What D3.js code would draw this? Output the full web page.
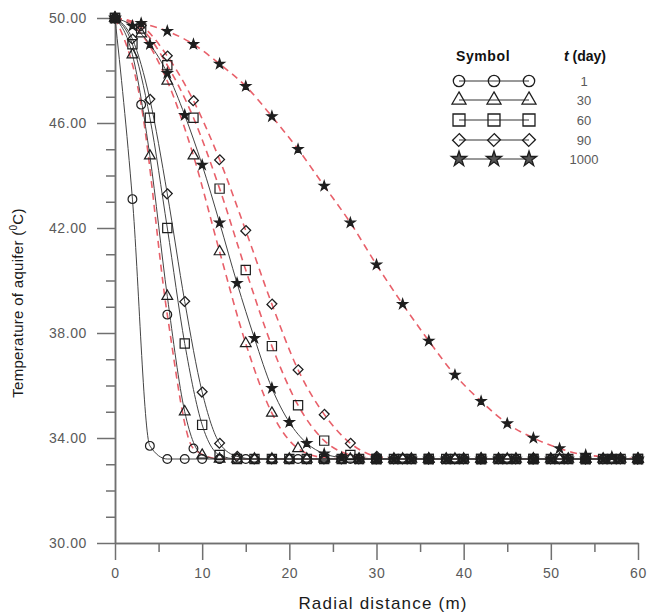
<!DOCTYPE html>
<html>
<head>
<meta charset="utf-8">
<script src="https://cdn.jsdelivr.net/npm/d3@7"></script>
<style>
  html, body { margin: 0; padding: 0; background: #fff; }
  svg { display: block; font-family: "Liberation Sans", Arial, sans-serif; }
</style>
</head>
<body>
<svg id="chart" width="648" height="613"></svg>
<script>
// ---------------- DATA ----------------
const times = ["1", "30", "60", "90", "1000"];
const symbolsByTime = ["circle", "triangle", "square", "diamond", "star"];

// solid black curves, sampled every 2 m
const xSolid = [0,2,4,6,8,10,12,14,16,18,20,22,24,26,28,30,32,34,36,38,40,42,44,46,48,50,52,54,56,58,60];
const solidT1    = [50,43.1,33.7,33.2,33.2,33.2,33.2,33.2,33.2,33.2,33.2,33.2,33.2,33.2,33.2,33.2,33.2,33.2,33.2,33.2,33.2,33.2,33.2,33.2,33.2,33.2,33.2,33.2,33.2,33.2,33.2];
const solidT30   = [50,48.6,44.75,39.4,35.0,33.35,33.2,33.2,33.2,33.2,33.2,33.2,33.2,33.2,33.2,33.2,33.2,33.2,33.2,33.2,33.2,33.2,33.2,33.2,33.2,33.2,33.2,33.2,33.2,33.2,33.2];
const solidT60   = [50,49.0,46.2,42.0,37.6,34.5,33.35,33.2,33.2,33.2,33.2,33.2,33.2,33.2,33.2,33.2,33.2,33.2,33.2,33.2,33.2,33.2,33.2,33.2,33.2,33.2,33.2,33.2,33.2,33.2,33.2];
const solidT90   = [50,49.2,46.9,43.3,39.2,35.75,33.8,33.3,33.2,33.2,33.2,33.2,33.2,33.2,33.2,33.2,33.2,33.2,33.2,33.2,33.2,33.2,33.2,33.2,33.2,33.2,33.2,33.2,33.2,33.2,33.2];
const solidT1000 = [50,49.7,49.0,47.9,46.3,44.4,42.2,39.9,37.8,35.9,34.6,33.8,33.4,33.25,33.2,33.2,33.2,33.2,33.2,33.2,33.2,33.2,33.2,33.2,33.2,33.2,33.2,33.2,33.2,33.2,33.2];

// red dashed curves, sampled every 3 m
const xDashed = [0,3,6,9,12,15,18,21,24,27,30,33,36,39,42,45,48,51,54,57,60];
const dashedT1    = [50,46.7,38.7,33.6,33.2,33.2,33.2,33.2,33.2,33.2,33.2,33.2,33.2,33.2,33.2,33.2,33.2,33.2,33.2,33.2,33.2];
const dashedT30   = [50,49.4,47.6,44.75,41.1,37.6,34.95,33.6,33.25,33.2,33.2,33.2,33.2,33.2,33.2,33.2,33.2,33.2,33.2,33.2,33.2];
const dashedT60   = [50,49.6,48.2,46.2,43.5,40.4,37.5,35.25,33.9,33.35,33.2,33.2,33.2,33.2,33.2,33.2,33.2,33.2,33.2,33.2,33.2];
const dashedT90   = [50,49.7,48.55,46.85,44.6,41.9,39.1,36.6,34.9,33.8,33.3,33.2,33.2,33.2,33.2,33.2,33.2,33.2,33.2,33.2,33.2];
const dashedT1000 = [50,49.8,49.5,49.0,48.25,47.4,46.25,45.0,43.6,42.2,40.6,39.1,37.7,36.4,35.4,34.55,34.0,33.6,33.35,33.28,33.2];

const xMajorTicks = [0,10,20,30,40,50,60];
const xMinorTicks = [5,15,25,35,45,55];
const yMajorTicks = [30,34,38,42,46,50];
const yMinorTicks = [31,32,33,35,36,37,39,40,41,43,44,45,47,48,49];

const xTitle = "Radial distance (m)";
const yTitleMain = "Temperature of aquifer (";
const yTitleSup = "0";
const yTitleEnd = "C)";
const legendHead1 = "Symbol";
const legendHead2 = " (day)";

// ---------------- BUILD ----------------
const solidSeries = [solidT1, solidT30, solidT60, solidT90, solidT1000];
const dashedSeries = [dashedT1, dashedT30, dashedT60, dashedT90, dashedT1000];

const svg = d3.select("#chart");
const x = d3.scaleLinear().domain([0, 60]).range([115, 638]);
const y = d3.scaleLinear().domain([30, 50]).range([543, 18]);

const axisColor = "#707070";
const labelColor = "#5a5a5a";

// Axes
const gx = svg.append("g").attr("transform", `translate(0,${y(30)})`);
gx.call(d3.axisBottom(x).tickValues(xMajorTicks).tickSize(17).tickSizeOuter(0).tickPadding(8).tickFormat(d3.format("d")));
const gxm = svg.append("g").attr("transform", `translate(0,${y(30)})`);
gxm.call(d3.axisBottom(x).tickValues(xMinorTicks).tickSize(9).tickSizeOuter(0).tickFormat(""));

const gy = svg.append("g").attr("transform", `translate(${x(0)},0)`);
gy.call(d3.axisLeft(y).tickValues(yMajorTicks).tickSize(18).tickSizeOuter(0).tickPadding(10).tickFormat(d3.format(".2f")));
const gym = svg.append("g").attr("transform", `translate(${x(0)},0)`);
gym.call(d3.axisLeft(y).tickValues(yMinorTicks).tickSize(9).tickSizeOuter(0).tickFormat(""));

[gx, gxm, gy, gym].forEach(g => {
  g.selectAll("path.domain").attr("stroke", axisColor).attr("stroke-width", 1.5);
  g.selectAll(".tick line").attr("stroke", axisColor).attr("stroke-width", 1.5);
  g.selectAll(".tick text")
    .attr("fill", labelColor)
    .attr("font-size", 14)
    .attr("letter-spacing", "0.6px")
    .attr("font-family", "Liberation Sans, Arial, sans-serif");
});

// Titles
svg.append("text")
  .attr("x", 383).attr("y", 609)
  .attr("text-anchor", "middle")
  .attr("font-size", 17)
  .attr("letter-spacing", "1.2px")
  .attr("fill", "#1a1a1a")
  .text(xTitle);

const yt = svg.append("text")
  .attr("transform", "translate(23,303) rotate(-90)")
  .attr("text-anchor", "middle")
  .attr("font-size", 15)
  .attr("letter-spacing", "0.3px")
  .attr("fill", "#1a1a1a");
yt.append("tspan").text(yTitleMain);
yt.append("tspan").attr("font-size", 10).attr("dy", -6).text(yTitleSup);
yt.append("tspan").attr("dy", 6).text(yTitleEnd);

// Curves
const line = d3.line().curve(d3.curveMonotoneX);

const gLines = svg.append("g");
dashedSeries.forEach(vals => {
  gLines.append("path")
    .attr("d", line(xDashed.map((d, i) => [x(d), y(vals[i])])))
    .attr("fill", "none")
    .attr("stroke", "#e8606a")
    .attr("stroke-width", 1.6)
    .attr("stroke-dasharray", "7,5");
});
solidSeries.forEach(vals => {
  gLines.append("path")
    .attr("d", line(xSolid.map((d, i) => [x(d), y(vals[i])])))
    .attr("fill", "none")
    .attr("stroke", "#444")
    .attr("stroke-width", 1);
});

// Marker shapes
function markerPath(type, scale) {
  const s = scale || 1;
  switch (type) {
    case "circle": return d3.symbol().type(d3.symbolCircle).size(60 * s * s)();
    case "triangle": return d3.symbol().type(d3.symbolTriangle).size(50 * s * s)();
    case "square": return d3.symbol().type(d3.symbolSquare).size(85 * s * s)();
    case "diamond": return d3.symbol().type(d3.symbolSquare).size(44 * s * s)();
    case "star": return d3.symbol().type(d3.symbolStar).size(30 * s * s)();
  }
}
function drawMarker(g, type, cx, cy, scale, starFill) {
  const p = g.append("path")
    .attr("d", markerPath(type, scale))
    .attr("transform", `translate(${cx},${cy})` + (type === "diamond" ? " rotate(45) scale(1,1.1)" : ""))
    .attr("stroke", "#1e1e1e")
    .attr("stroke-width", 1.2);
  if (type === "star") p.attr("fill", starFill || "#1e1e1e"); else p.attr("fill", "none");
  return p;
}

const gMarks = svg.append("g");
dashedSeries.forEach((vals, k) => {
  xDashed.forEach((d, i) => drawMarker(gMarks, symbolsByTime[k], x(d), y(vals[i])));
});
solidSeries.forEach((vals, k) => {
  xSolid.forEach((d, i) => drawMarker(gMarks, symbolsByTime[k], x(d), y(vals[i])));
});

// Legend
const lg = svg.append("g");
lg.append("text").attr("x", 456).attr("y", 61)
  .attr("font-size", 14).attr("font-weight", "bold").attr("letter-spacing", "0.6px")
  .attr("fill", "#111").text(legendHead1);
const th = lg.append("text").attr("x", 564).attr("y", 61)
  .attr("font-size", 14).attr("font-weight", "bold").attr("fill", "#111");
th.append("tspan").attr("font-style", "italic").text("t");
th.append("tspan").text(legendHead2);

const rowY = [81, 100, 120, 140, 159];
const symX = [459, 494, 529];
times.forEach((t, k) => {
  lg.append("line")
    .attr("x1", symX[0]).attr("x2", symX[2])
    .attr("y1", rowY[k]).attr("y2", rowY[k])
    .attr("stroke", "#333").attr("stroke-width", 1);
  symX.forEach(sx => {
    drawMarker(lg, symbolsByTime[k], sx, rowY[k], symbolsByTime[k] === "star" ? 1.55 : 1.3, "#555")
      .attr("stroke-width", 1.3);
  });
  lg.append("text").attr("x", 584).attr("y", rowY[k] + 5)
    .attr("text-anchor", "middle").attr("font-size", 13).attr("fill", labelColor)
    .text(t);
});
</script>
</body>
</html>
